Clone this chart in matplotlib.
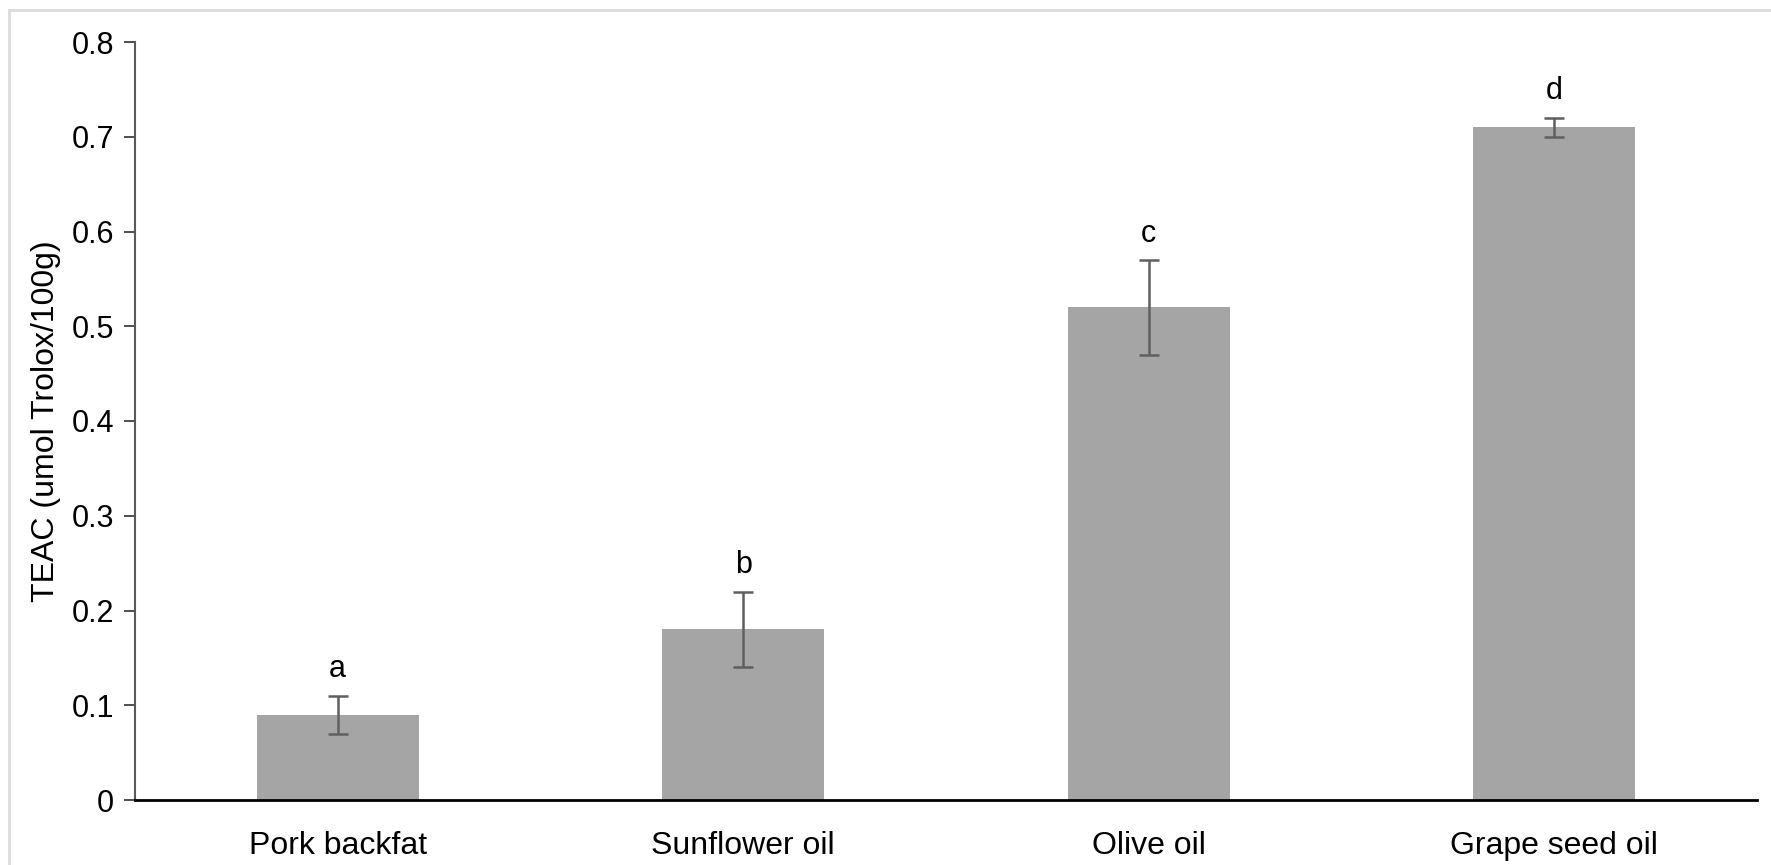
import matplotlib
matplotlib.use("Agg")
import matplotlib.pyplot as plt
from matplotlib.lines import Line2D

plt.rcParams["font.family"] = ["Liberation Sans", "DejaVu Sans"]

# data
categories = ["Pork backfat", "Sunflower oil", "Olive oil", "Grape seed oil"]
teac = [0.09, 0.18, 0.52, 0.71]
teac_err = [0.02, 0.04, 0.05, 0.01]
letters = ["a", "b", "c", "d"]

W, H = 1771, 865
fig = plt.figure(figsize=(W / 100, H / 100), dpi=100)
ax = fig.add_axes([135 / W, 1 - 800 / H, (1757 - 135) / W, (800 - 42) / H])

x = range(len(categories))
ax.bar(x, teac, width=0.40, color="#a5a5a5", zorder=2)
ax.errorbar(x, teac, yerr=teac_err, fmt="none", ecolor="#5f5f5f",
            elinewidth=1.8, capsize=7, capthick=1.8, zorder=3)

for xi, v, e, lab in zip(x, teac, teac_err, letters):
    ax.text(xi, v + e + 0.012, lab, ha="center", va="bottom", fontsize=22)

ax.set_xlim(-0.5, len(categories) - 0.5)
ax.set_ylim(0, 0.8)
ax.set_yticks([i / 10 for i in range(9)])
ax.set_yticklabels(["0"] + [f"{i / 10:.1f}" for i in range(1, 9)])
ax.set_xticks(list(x))
ax.set_xticklabels(categories)
ax.set_ylabel("TEAC (umol Trolox/100g)", fontsize=23, labelpad=8)

ax.tick_params(axis="y", direction="out", length=8, width=1.3, color="#404040",
               labelsize=22, pad=7)
ax.tick_params(axis="x", length=0, labelsize=23, pad=22)

for s in ["top", "right"]:
    ax.spines[s].set_visible(False)
ax.spines["left"].set_color("#595959")
ax.spines["left"].set_linewidth(1.5)
ax.spines["bottom"].set_color("black")
ax.spines["bottom"].set_linewidth(2)

# light frame at left and top of the page
fig.add_artist(Line2D([9 / W, 9 / W], [0, 1 - 10 / H], transform=fig.transFigure,
                      color="#dcdcdc", lw=2))
fig.add_artist(Line2D([9 / W, 1], [1 - 10 / H, 1 - 10 / H], transform=fig.transFigure,
                      color="#dcdcdc", lw=2))

fig.savefig("out.png", dpi=100)
